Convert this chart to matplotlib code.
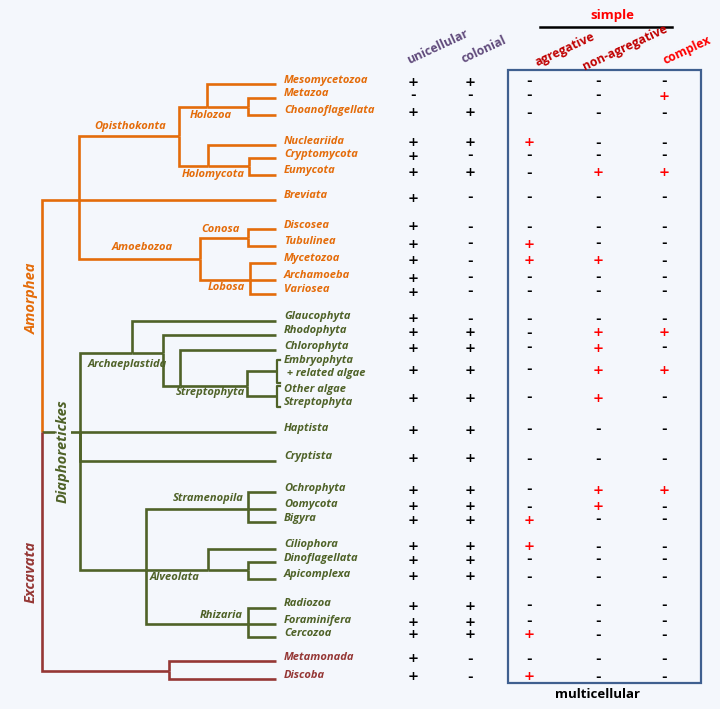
import matplotlib.pyplot as plt
from matplotlib.patches import Rectangle

orange = '#E46C0A'
green = '#4F6228'
red = '#953735'
bg = '#F4F7FC'

# taxa (top to bottom) and their traits: 1 = "+", 0 = "-"
taxa = ['Mesomycetozoa', 'Metazoa', 'Choanoflagellata', 'Nucleariida', 'Cryptomycota',
        'Eumycota', 'Breviata', 'Discosea', 'Tubulinea', 'Mycetozoa', 'Archamoeba',
        'Variosea', 'Glaucophyta', 'Rhodophyta', 'Chlorophyta',
        'Embryophyta\n + related algae', 'Other algae\nStreptophyta', 'Haptista',
        'Cryptista', 'Ochrophyta', 'Oomycota', 'Bigyra', 'Ciliophora', 'Dinoflagellata',
        'Apicomplexa', 'Radiozoa', 'Foraminifera', 'Cercozoa', 'Metamonada', 'Discoba']
unicellular =    [1, 0, 1, 1, 1, 1, 1, 1, 1, 1, 1, 1, 1, 1, 1, 1, 1, 1, 1, 1, 1, 1, 1, 1, 1, 1, 1, 1, 1, 1]
colonial =       [1, 0, 1, 1, 0, 1, 0, 0, 0, 0, 0, 0, 0, 1, 1, 1, 1, 1, 1, 1, 1, 1, 1, 1, 1, 1, 1, 1, 0, 0]
agregative =     [0, 0, 0, 1, 0, 0, 0, 0, 1, 1, 0, 0, 0, 0, 0, 0, 0, 0, 0, 0, 0, 1, 1, 0, 0, 0, 0, 1, 0, 1]
non_agregative = [0, 0, 0, 0, 0, 1, 0, 0, 0, 1, 0, 0, 0, 1, 1, 1, 1, 0, 0, 1, 1, 0, 0, 0, 0, 0, 0, 0, 0, 0]
complex_ =       [0, 1, 0, 0, 0, 1, 0, 0, 0, 0, 0, 0, 0, 1, 0, 1, 0, 0, 0, 1, 0, 0, 0, 0, 0, 0, 0, 0, 0, 0]
columns = ['unicellular', 'colonial', 'agregative', 'non-agregative', 'complex']
values = [unicellular, colonial, agregative, non_agregative, complex_]

# layout (pixels): y of each leaf branch
leaf_y = [84, 98, 115, 145, 158, 175, 200, 229, 246, 263, 280, 294, 321, 335, 350,
          371, 396, 432, 461, 492, 509, 522, 549, 562, 579, 608, 624, 637, 661, 679]
ypos = dict(zip(taxa, leaf_y))
leaf_x = 276

# internal nodes: x, y, children
nodes = {
    'root': (42, 432, ['OA', 'Diaph', 'Exc']),
    'OA': (79, 200, ['Opi', 'Breviata', 'Amo']),
    'Opi': (179, 136, ['Holozoa', 'Holomycota']),
    'Holozoa': (207, 107, ['Mesomycetozoa', 'MetCho']),
    'MetCho': (248, 107, ['Metazoa', 'Choanoflagellata']),
    'Holomycota': (208, 166, ['Nucleariida', 'CryEu']),
    'CryEu': (249, 166, ['Cryptomycota', 'Eumycota']),
    'Amo': (200, 259, ['Conosa', 'Lobosa']),
    'Conosa': (248, 238, ['Discosea', 'Tubulinea']),
    'Lobosa': (250, 280, ['Mycetozoa', 'Archamoeba', 'Variosea']),
    'Diaph': (80, 432, ['Arch', 'Haptista', 'Cryptista', 'SAR']),
    'Arch': (132, 353, ['Glaucophyta', 'Arch2']),
    'Arch2': (163, 353, ['Rhodophyta', 'Chl']),
    'Chl': (180, 386, ['Chlorophyta', 'Strepto']),
    'Strepto': (247, 386, ['Embryophyta\n + related algae', 'Other algae\nStreptophyta']),
    'SAR': (146, 570, ['Stramenopila', 'Alveolata', 'Rhizaria']),
    'Stramenopila': (248, 509, ['Ochrophyta', 'Oomycota', 'Bigyra']),
    'Alveolata': (208, 570, ['Ciliophora', 'DinApi']),
    'DinApi': (248, 570, ['Dinoflagellata', 'Apicomplexa']),
    'Rhizaria': (248, 624, ['Radiozoa', 'Foraminifera', 'Cercozoa']),
    'Exc': (169, 671, ['Metamonada', 'Discoba']),
}
clade_color = {'OA': orange, 'Diaph': green, 'Exc': red}

node_labels = [('Opisthokonta', 130, 126, orange), ('Holozoa', 211, 115, orange),
               ('Holomycota', 213, 174, orange), ('Amoebozoa', 142, 248, orange),
               ('Conosa', 221, 230, orange), ('Lobosa', 226, 288, orange),
               ('Archaeplastida', 127, 365, green), ('Streptophyta', 210, 393, green),
               ('Stramenopila', 208, 498, green), ('Alveolata', 175, 578, green),
               ('Rhizaria', 221, 615, green)]

lab_font = dict(family=['Open Sans', 'DejaVu Sans'], weight='bold', style='italic', fontsize=8)

fig = plt.figure(figsize=(7.2, 7.09), dpi=100, facecolor=bg)
ax = fig.add_axes([0, 0, 1, 1])
ax.set_xlim(0, 720)
ax.set_ylim(709, 0)
ax.axis('off')

leaf_color = {}


def pos(name):
    if name in nodes:
        return nodes[name][0], nodes[name][1]
    return leaf_x, ypos[name]


def draw(name, color):
    x, y, kids = nodes[name]
    for k in kids:
        kc = clade_color.get(k, color)
        kx, ky = pos(k)
        ax.plot([x, x, kx], [y, ky, ky], color=kc, lw=1.9, solid_joinstyle='miter',
                solid_capstyle='butt')
        if k in nodes:
            draw(k, kc)
        else:
            leaf_color[k] = kc


draw('root', None)

# brackets for the two streptophyte leaves
for name, (top, bot) in [('Embryophyta\n + related algae', (-11, 12)),
                         ('Other algae\nStreptophyta', (-10, 11))]:
    y = ypos[name]
    ax.plot([280, 277, 277, 280], [y + top, y + top, y + bot, y + bot],
            color=green, lw=1.6)

text_dy = {'Embryophyta\n + related algae': -4, 'Other algae\nStreptophyta': 0}
for name in taxa:
    y = ypos[name] + text_dy.get(name, -4)
    ax.text(284, y, name, color=leaf_color[name], ha='left', va='center',
            linespacing=1.25, **lab_font)

for txt, x, y, c in node_labels:
    ax.text(x, y, txt, color=c, ha='center', va='center', **lab_font)

big_font = dict(family=['Open Sans', 'DejaVu Sans'], weight='bold', style='italic', fontsize=10.5)
ax.text(32, 298, 'Amorphea', color=orange, rotation=90, ha='center', va='center', **big_font)
ax.text(31, 572, 'Excavata', color=red, rotation=90, ha='center', va='center', **big_font)
ax.text(63, 451, 'Diaphoretickes', color=green, rotation=90, ha='center', va='center',
        bbox=dict(facecolor=bg, edgecolor='none', pad=0.5), **big_font)

# table
col_x = [413, 470, 529, 598, 664]
row_dy = {'Embryophyta\n + related algae': 1, 'Other algae\nStreptophyta': 4}
for j, (cx, vals) in enumerate(zip(col_x, values)):
    for name, v in zip(taxa, vals):
        y = ypos[name] - 2 + row_dy.get(name, 0)
        c = '#FF0000' if (v and j >= 2) else 'black'
        ax.text(cx, y, '+' if v else '-', color=c, ha='center', va='center',
                fontsize=9.5, fontweight='bold', family='DejaVu Sans')

head_pos = [(438, 47), (484, 50), (565, 50), (625, 48), (687, 50)]
head_col = ['#604A7B', '#604A7B', '#C00000', '#C00000', '#FF0000']
for txt, (hx, hy), c in zip(columns, head_pos, head_col):
    ax.text(hx, hy, txt, color=c, rotation=25, rotation_mode='anchor', ha='center',
            va='center', fontsize=8.8, fontweight='bold', family=['Open Sans', 'DejaVu Sans'])

ax.text(612, 15, 'simple', color='#FF0000', ha='center', va='center', fontsize=9.5,
        fontweight='bold', family=['Open Sans', 'DejaVu Sans'])
ax.plot([540, 672], [27, 27], color='black', lw=1.8)
ax.add_patch(Rectangle((508, 70), 193, 613, fill=False, edgecolor='#3F5F8F', lw=1.6))
ax.text(597, 695, 'multicellular', color='black', ha='center', va='center', fontsize=9.5,
        fontweight='bold', family=['Open Sans', 'DejaVu Sans'])

fig.savefig('out.png', dpi=100, facecolor=bg)
